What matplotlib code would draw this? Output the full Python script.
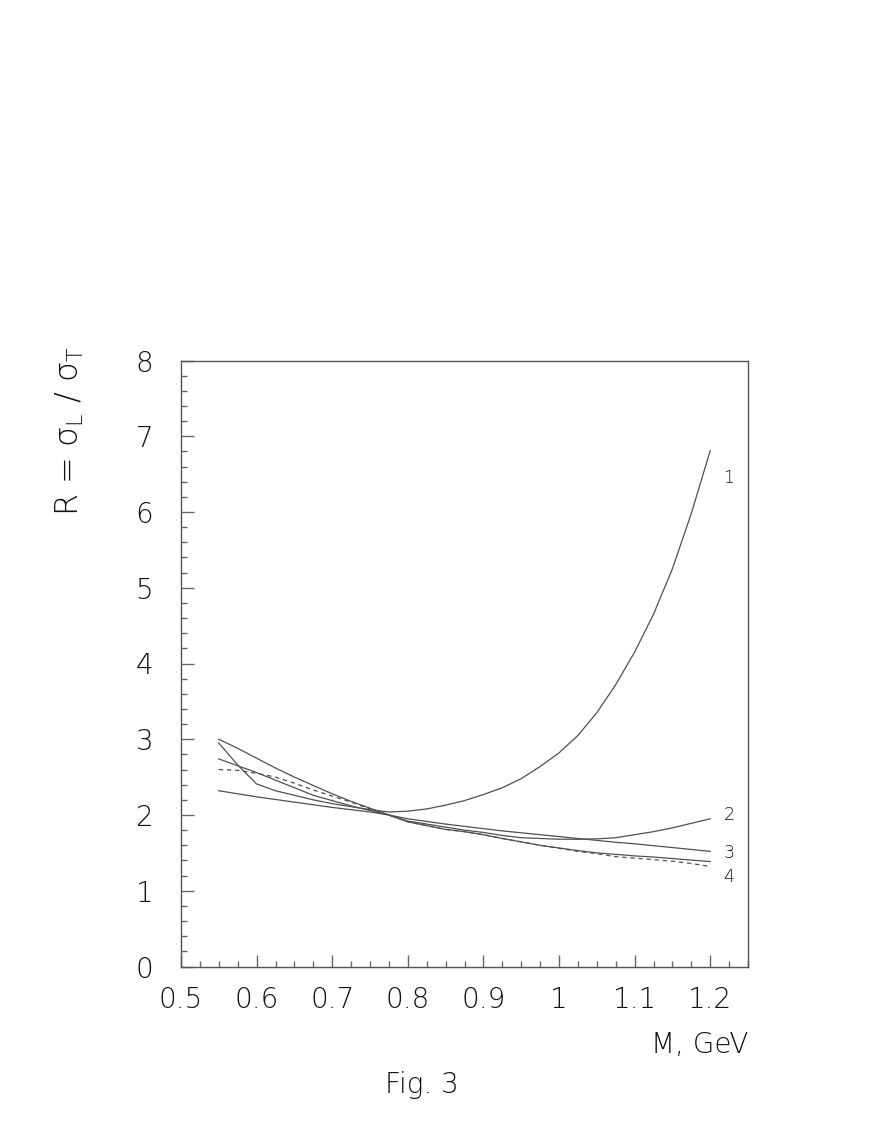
import matplotlib
matplotlib.use("Agg")
import matplotlib.pyplot as plt
from matplotlib.ticker import MultipleLocator

plt.rcParams['font.family'] = ['DejaVu Sans']
plt.rcParams['font.weight'] = 200
plt.rcParams['mathtext.fontset'] = 'custom'
plt.rcParams['mathtext.rm'] = 'DejaVu Sans:weight=200'
plt.rcParams['mathtext.it'] = 'DejaVu Sans:weight=200'
plt.rcParams['mathtext.sf'] = 'DejaVu Sans:weight=200'

# ---- data ----
mass = [0.55, 0.575, 0.6, 0.625, 0.65, 0.675, 0.7, 0.725, 0.75, 0.775,
        0.8, 0.825, 0.85, 0.875, 0.9, 0.925, 0.95, 0.975, 1.0, 1.025,
        1.05, 1.075, 1.1, 1.125, 1.15, 1.175, 1.2]

curve1 = [2.95, 2.66, 2.41, 2.32, 2.26, 2.20, 2.15, 2.11, 2.07, 2.04,
          2.05, 2.08, 2.13, 2.19, 2.27, 2.36, 2.48, 2.64, 2.82, 3.05,
          3.35, 3.72, 4.15, 4.65, 5.25, 5.98, 6.81]

curve2 = [2.74, 2.65, 2.56, 2.46, 2.36, 2.26, 2.19, 2.12, 2.06, 2.00,
          1.92, 1.88, 1.84, 1.80, 1.77, 1.73, 1.70, 1.69, 1.68, 1.68,
          1.685, 1.70, 1.74, 1.78, 1.83, 1.89, 1.95]

curve3 = [2.32, 2.28, 2.24, 2.205, 2.17, 2.135, 2.10, 2.07, 2.04, 2.00,
          1.95, 1.915, 1.88, 1.85, 1.82, 1.79, 1.765, 1.74, 1.715, 1.69,
          1.665, 1.64, 1.62, 1.595, 1.57, 1.545, 1.52]

curve4_solid = [3.00, 2.88, 2.75, 2.62, 2.50, 2.39, 2.28, 2.18, 2.09, 2.00,
                1.91, 1.86, 1.81, 1.78, 1.74, 1.69, 1.645, 1.60, 1.565, 1.53,
                1.50, 1.48, 1.46, 1.445, 1.425, 1.405, 1.385]

curve4_dashed = [2.60, 2.59, 2.55, 2.50, 2.42, 2.33, 2.25, 2.17, 2.08, 2.00,
                 1.91, 1.86, 1.81, 1.78, 1.74, 1.69, 1.645, 1.60, 1.56, 1.52,
                 1.49, 1.45, 1.43, 1.41, 1.39, 1.36, 1.32]

curve_labels = ["1", "2", "3", "4"]
label_y = [6.45, 2.0, 1.5, 1.18]

xticks = [0.5, 0.6, 0.7, 0.8, 0.9, 1.0, 1.1, 1.2]
xticklabels = ["0.5", "0.6", "0.7", "0.8", "0.9", "1", "1.1", "1.2"]
yticks = [0, 1, 2, 3, 4, 5, 6, 7, 8]

# ---- figure ----
W, H = 872, 1128
fig = plt.figure(figsize=(W / 100, H / 100), dpi=100)
ax = fig.add_axes([181 / W, 1 - 966.5 / H, (748 - 181) / W, (966.5 - 360.5) / H])

lc = '#505050'
lw = 0.9
ax.plot(mass, curve1, color=lc, lw=lw)
ax.plot(mass, curve2, color=lc, lw=lw)
ax.plot(mass, curve3, color=lc, lw=lw)
ax.plot(mass, curve4_solid, color=lc, lw=lw)
ax.plot(mass, curve4_dashed, color=lc, lw=lw, dashes=(3.5, 3))

ax.set_xlim(0.5, 1.25)
ax.set_ylim(0, 8)

ax.set_xticks(xticks)
ax.set_xticklabels(xticklabels)
ax.set_yticks(yticks)
ax.xaxis.set_minor_locator(MultipleLocator(0.025))
ax.yaxis.set_minor_locator(MultipleLocator(0.2))

tc = '#111111'
ax.tick_params(which='both', direction='in', colors='#666666', labelcolor=tc, width=1)
ax.tick_params(which='major', length=9, labelsize=20)
ax.tick_params(which='minor', length=4.5)
ax.tick_params(axis='x', which='major', pad=14)
ax.tick_params(axis='y', which='major', pad=20)
ax.tick_params(top=False, right=False, which='both')

for s in ax.spines.values():
    s.set_color('#555555')
    s.set_linewidth(1.0)

for lab, yv in zip(curve_labels, label_y):
    ax.text(1.225, yv, lab, fontsize=12.5, color=tc, ha='center', va='center')

fig.text(70 / W, 1 - 431 / H, r'R = $\sigma_{\mathrm{L}}$ / $\sigma_{\mathrm{T}}$',
         rotation=90, ha='center', va='center', fontsize=23, color=tc)
fig.text(748 / W, 1 - 1045 / H, 'M, GeV', ha='right', va='center', fontsize=20, color=tc)
fig.text(422 / W, 1 - 1085 / H, 'Fig. 3', ha='center', va='center', fontsize=20, color=tc)

fig.savefig('out.png', dpi=100, facecolor='white')
